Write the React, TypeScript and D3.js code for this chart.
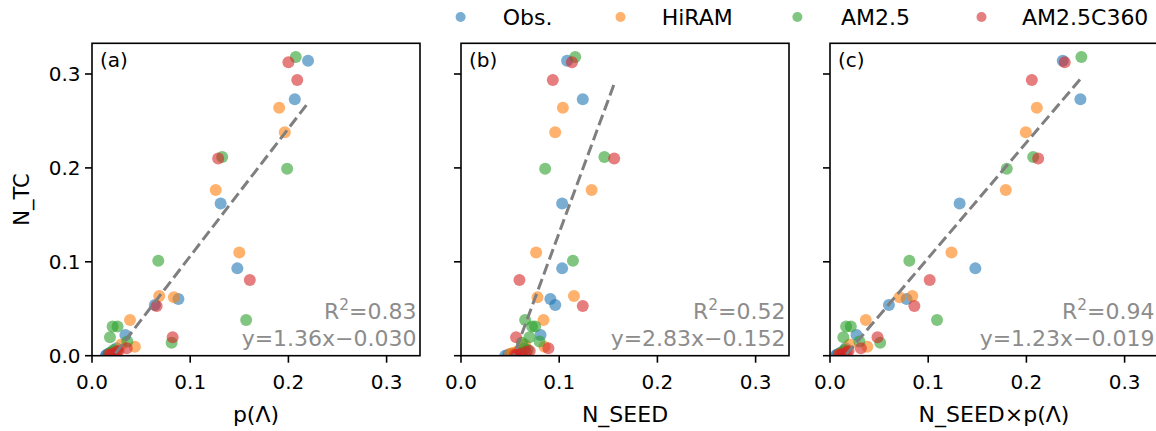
import React from 'react';
import * as d3 from 'd3';

const seriesNames = ['Obs.', 'HiRAM', 'AM2.5', 'AM2.5C360'];
const seriesColors = ['#1f77b4', '#ff7f0e', '#2ca02c', '#d62728'];

// N_TC values (y) per series
const obsNTC = [0.314, 0.273, 0.162, 0.093, 0.0605, 0.054, 0.022, 0.008, 0.004, 0.002, 0.001, 0.0];
const hiramNTC = [0.264, 0.238, 0.1765, 0.110, 0.0636, 0.0622, 0.038, 0.0096, 0.012, 0.005, 0.003, 0.002];
const am25NTC = [0.318, 0.2116, 0.199, 0.101, 0.038, 0.031, 0.031, 0.0196, 0.0139, 0.015, 0.006, 0.003];
const c360NTC = [0.3125, 0.2936, 0.210, 0.0806, 0.0529, 0.0196, 0.0079, 0.004, 0.002, 0.001, 0.001, 0.005];

// p(Lambda) values (panel a)
const obsP = [0.220, 0.2065, 0.131, 0.148, 0.088, 0.064, 0.034, 0.025, 0.020, 0.017, 0.015, 0.014];
const hiramP = [0.1906, 0.1963, 0.126, 0.150, 0.0685, 0.0834, 0.0387, 0.0437, 0.030, 0.025, 0.022, 0.020];
const am25P = [0.2075, 0.1326, 0.1987, 0.0675, 0.157, 0.021, 0.026, 0.0183, 0.0811, 0.036, 0.022, 0.018];
const c360P = [0.200, 0.209, 0.1285, 0.1607, 0.0658, 0.0821, 0.0353, 0.025, 0.021, 0.019, 0.017, 0.027];

// N_SEED values (panel b)
const obsSeed = [0.108, 0.124, 0.103, 0.103, 0.091, 0.096, 0.081, 0.065, 0.058, 0.052, 0.048, 0.045];
const hiramSeed = [0.1037, 0.0959, 0.133, 0.0765, 0.115, 0.0779, 0.084, 0.085, 0.065, 0.058, 0.053, 0.050];
const am25Seed = [0.1163, 0.146, 0.0857, 0.114, 0.0653, 0.0724, 0.0755, 0.0697, 0.062, 0.080, 0.068, 0.062];
const c360Seed = [0.113, 0.0935, 0.156, 0.0595, 0.124, 0.0561, 0.089, 0.066, 0.060, 0.057, 0.055, 0.070];

// N_SEED x p(Lambda) values (panel c)
const obsSeedP = [0.237, 0.255, 0.132, 0.148, 0.078, 0.060, 0.027, 0.016, 0.012, 0.009, 0.007, 0.006];
const hiramSeedP = [0.2106, 0.1994, 0.179, 0.1237, 0.0838, 0.0709, 0.0365, 0.038, 0.020, 0.015, 0.012, 0.010];
const am25SeedP = [0.256, 0.2069, 0.180, 0.0808, 0.109, 0.0164, 0.0212, 0.0136, 0.0511, 0.030, 0.015, 0.011];
const c360SeedP = [0.239, 0.2055, 0.212, 0.1015, 0.0859, 0.0484, 0.0314, 0.017, 0.013, 0.011, 0.009, 0.019];

const yBySeries = [obsNTC, hiramNTC, am25NTC, c360NTC];
const xByPanel = [
  [obsP, hiramP, am25P, c360P],
  [obsSeed, hiramSeed, am25Seed, c360Seed],
  [obsSeedP, hiramSeedP, am25SeedP, c360SeedP],
];

const panelLabels = ['(a)', '(b)', '(c)'];
const xAxisLabels = ['p(\u039b)', 'N_SEED', 'N_SEED\u00d7p(\u039b)'];
const yAxisLabel = 'N_TC';
const r2Values = ['0.83', '0.52', '0.94'];
const fitSlopes = [1.36, 2.83, 1.23];
const fitIntercepts = [-0.030, -0.152, -0.019];
const tickValues = [0, 0.1, 0.2, 0.3];

const W = 1156;
const H = 431;
const panelLefts = [92, 461, 830];
const panelW = 328;
const top = 43.3;
const bottom = 355.7;
const xMax = 0.334;
const yMax = 0.3327;
const font = 'DejaVu Sans, sans-serif';
const tickLen = 7;
const legendDotX = [460.6, 620.5, 797.4, 981.5];
const legendTextX = [502.7, 661.7, 841, 1022];

export default function App() {
  const y = d3.scaleLinear().domain([0, yMax]).range([bottom, top]);
  const fmt = d3.format('.1f');

  return (
    <svg width={W} height={H} style={{ position: 'absolute', left: 0, top: 0, background: '#fff' }} fontFamily={font}>
      <defs>
        {panelLefts.map((l, i) => (
          <clipPath id={`clip${i}`} key={i}>
            <rect x={l} y={top} width={panelW} height={bottom - top} />
          </clipPath>
        ))}
      </defs>
      {panelLefts.map((left, pi) => {
        const x = d3.scaleLinear().domain([0, xMax]).range([left, left + panelW]);
        const allX = xByPanel[pi].flat();
        const xmin = d3.min(allX) as number;
        const xmaxd = d3.max(allX) as number;
        const line = d3.line<number>().x((d) => x(d)).y((d) => y(fitSlopes[pi] * d + fitIntercepts[pi]));
        const fitText = `y=${fitSlopes[pi].toFixed(2)}x\u2212${Math.abs(fitIntercepts[pi]).toFixed(3)}`;
        return (
          <g key={pi}>
            <g clipPath={`url(#clip${pi})`}>
              {xByPanel[pi].map((xs, si) => (
                <g key={si} fill={seriesColors[si]} fillOpacity={0.6}>
                  {xs.map((xv, k) => (
                    <circle key={k} cx={x(xv)} cy={y(yBySeries[si][k])} r={6} />
                  ))}
                </g>
              ))}
              <path d={line([xmin, xmaxd]) || ''} fill="none" stroke="#7f7f7f" strokeWidth={3} strokeDasharray="11.1,4.8" />
            </g>
            <rect x={left} y={top} width={panelW} height={bottom - top} fill="none" stroke="#000" strokeWidth={1.6} />
            {tickValues.map((t) => (
              <g key={`x${t}`}>
                <line x1={x(t)} x2={x(t)} y1={bottom} y2={bottom + tickLen} stroke="#000" strokeWidth={1.6} />
                <text x={x(t)} y={bottom + 33.3} textAnchor="middle" fontSize={20} fill="#000">{fmt(t)}</text>
              </g>
            ))}
            {tickValues.map((t) => (
              <g key={`y${t}`}>
                <line x1={left - tickLen} x2={left} y1={y(t)} y2={y(t)} stroke="#000" strokeWidth={1.6} />
                {pi === 0 && (
                  <text x={left - 11.5} y={y(t) + 7.3} textAnchor="end" fontSize={20} fill="#000">{fmt(t)}</text>
                )}
              </g>
            ))}
            <text x={left + 8} y={67} fontSize={20} fill="#000">{panelLabels[pi]}</text>
            <text x={left + panelW / 2} y={421.5} textAnchor="middle" fontSize={22} fill="#000">{xAxisLabels[pi]}</text>
            <text x={left + panelW - 3.5} y={319} textAnchor="end" fontSize={22} fill="#8c8c8c">
              <tspan>R</tspan>
              <tspan dy={-9} fontSize={15.4}>2</tspan>
              <tspan dy={9}>={r2Values[pi]}</tspan>
            </text>
            <text x={left + panelW - 3.5} y={346} textAnchor="end" fontSize={22} fill="#8c8c8c">{fitText}</text>
          </g>
        );
      })}
      <text transform={`translate(29,${(top + bottom) / 2}) rotate(-90)`} textAnchor="middle" fontSize={21} fill="#000">{yAxisLabel}</text>
      {seriesNames.map((n, i) => (
        <g key={n}>
          <circle cx={legendDotX[i]} cy={17} r={5} fill={seriesColors[i]} fillOpacity={0.6} />
          <text x={legendTextX[i]} y={25} fontSize={22} fill="#000">{n}</text>
        </g>
      ))}
    </svg>
  );
}
